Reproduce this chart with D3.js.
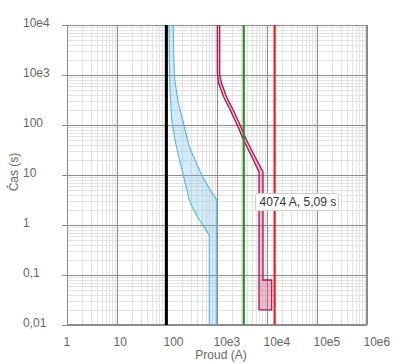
<!DOCTYPE html>
<html><head><meta charset="utf-8">
<script src="https://cdn.jsdelivr.net/npm/d3@7"></script>
<style>
html,body{margin:0;padding:0;background:#fff;}
svg{display:block;font-family:"Liberation Sans",Arial,sans-serif;}
</style></head>
<body><svg id="c" width="398" height="364"></svg>
<script>
// ---- data ----
const xTickValues = [1, 10, 100, 1e3, 1e4, 1e5, 1e6];
const xTickLabels = ["1", "10", "100", "10e3", "10e4", "10e5", "10e6"];
const yTickValues = [0.01, 0.1, 1, 10, 100, 1e3, 1e4];
const yTickLabels = ["0,01", "0,1", "1", "10", "100", "10e3", "10e4"];

const blueLowerI = [109.6, 111.2, 114.8, 124.2, 144.5, 173.8, 211.8, 279, 346.7, 446.7, 701.5, 701.5];
const blueLowerT = [10000, 1995, 501, 125.9, 50.1, 21.9, 10, 3.16, 1.905, 1.26, 0.631, 0.01];
const blueUpperI = [133.7, 136.8, 143.2, 168.3, 206, 279, 363, 494, 692, 986, 986];
const blueUpperT = [10000, 1995, 794, 275, 125.9, 36.8, 20, 10, 5.5, 3.16, 0.01];

const magLowerI = [1014, 1014, 1072, 1349, 1837, 2692, 3388, 4966, 6918, 6918];
const magLowerT = [10000, 1096, 692, 368, 200, 87, 50, 23.2, 11.5, 0.02];
const magUpperI = [1132, 1132, 1230, 1549, 2109, 3090, 3890, 5754, 8318, 8318, 12417, 12417];
const magUpperT = [10000, 1000, 692, 368, 200, 87, 50, 23.2, 11.5, 0.0794, 0.0794, 0.02];

const blackI = 97;
const greenI = 3430;
const redI = 14200;

const xTitle = "Proud (A)";
const yTitle = "Čas (s)";
const tooltipText = "4074 A, 5,09 s";

// ---- chart ----
const svg = d3.select("#c");
const L = 67, R = 367, T = 25, B = 325;
const x = d3.scaleLog().domain([1, 1e6]).range([L, R]);
const y = d3.scaleLog().domain([0.01, 1e4]).range([B, T]);

const minorX = [], minorY = [];
for (let e = 0; e < 6; e++) for (let m = 2; m <= 9; m++) minorX.push(m * Math.pow(10, e));
for (let e = -2; e < 4; e++) for (let m = 2; m <= 9; m++) minorY.push(+(m * Math.pow(10, e)).toPrecision(3));

const g = svg.append("g");
g.selectAll(".mx").data(minorX).join("line")
  .attr("x1", d => Math.round(x(d)) + 0.5).attr("x2", d => Math.round(x(d)) + 0.5)
  .attr("y1", T).attr("y2", B).attr("stroke", "#e2e2e2").attr("stroke-width", 1);
g.selectAll(".my").data(minorY).join("line")
  .attr("y1", d => Math.round(y(d)) + 0.5).attr("y2", d => Math.round(y(d)) + 0.5)
  .attr("x1", L).attr("x2", R).attr("stroke", "#e2e2e2").attr("stroke-width", 1);

// major grid via axes
const xAxis = d3.axisBottom(x).tickValues(xTickValues).tickFormat((d, i) => xTickLabels[i]).tickSize(-(B - T) - 5).tickSizeOuter(0);
const yAxis = d3.axisLeft(y).tickValues(yTickValues).tickFormat((d, i) => yTickLabels[i]).tickSize(-(R - L) - 5).tickSizeOuter(0);

const gx = svg.append("g").attr("transform", `translate(0,${B + 5})`).call(xAxis);
gx.select(".domain").remove();
gx.selectAll(".tick line").attr("stroke", "#8c8c8c").attr("y1", -5 + 0).attr("y2", -(B - T) - 5);
gx.selectAll(".tick text").attr("fill", "#666").attr("font-size", 12)
  .attr("text-anchor", "start").attr("dx", -4).attr("y", 0).attr("dy", 0)
  .attr("transform", "translate(0,16)");

const gy = svg.append("g").attr("transform", `translate(${L - 5},0)`).call(yAxis);
gy.select(".domain").remove();
gy.selectAll(".tick line").attr("stroke", "#8c8c8c").attr("x1", 0).attr("x2", R - L + 5);
gy.selectAll(".tick text").attr("fill", "#666").attr("font-size", 12)
  .attr("text-anchor", "start").attr("x", 23 - (L - 5)).attr("dy", "0.32em")
  .attr("transform", "translate(0,-2)");

// border
svg.append("rect").attr("x", L + 0.5).attr("y", T + 0.5).attr("width", R - L - 1).attr("height", B - T - 1)
  .attr("fill", "none").attr("stroke", "#8c8c8c");

const line = d3.line().x(d => x(d[0])).y(d => y(d[1]));
const zip = (a, b) => a.map((v, i) => [v, b[i]]);

// blue band
const bl = zip(blueLowerI, blueLowerT), bu = zip(blueUpperI, blueUpperT);
svg.append("path").attr("d", line(bl.concat(bu.slice().reverse())) + "Z")
  .attr("fill", "rgba(110,190,230,0.3)").attr("stroke", "none");
[bl, bu].forEach(p => svg.append("path").attr("d", line(p)).attr("fill", "none")
  .attr("stroke", "#5cb3dc").attr("stroke-width", 1.1));

// magenta band
const ml = zip(magLowerI, magLowerT), mu = zip(magUpperI, magUpperT);
svg.append("path").attr("d", line(ml.concat(mu.slice().reverse())) + "Z")
  .attr("fill", "rgba(205,70,120,0.35)").attr("stroke", "none");
svg.append("path").attr("d", line(ml)).attr("fill", "none").attr("stroke", "#a31a50").attr("stroke-width", 1.3);
svg.append("path").attr("d", line(mu.concat([ml[ml.length - 1]]))).attr("fill", "none").attr("stroke", "#a31a50").attr("stroke-width", 1.3);

// vertical lines
[[blackI, "#000", 3], [greenI, "#2e8b2e", 2.2], [redI, "#ee1c1c", 2.2]].forEach(([v, c, w]) => {
  svg.append("line").attr("x1", x(v)).attr("x2", x(v)).attr("y1", y(1e4)).attr("y2", y(0.01))
    .attr("stroke", c).attr("stroke-width", w);
});

// titles
svg.append("text").attr("x", (L + R) / 2 + 4).attr("y", 359).attr("text-anchor", "middle")
  .attr("fill", "#666").attr("font-size", 12).text(xTitle);
svg.append("text").attr("transform", "translate(18,172) rotate(-90)").attr("text-anchor", "middle")
  .attr("fill", "#666").attr("font-size", 12).text(yTitle);

// tooltip
const tg = svg.append("g").attr("transform", "translate(255,193)");
tg.append("rect").attr("x", 0.5).attr("y", 0.5).attr("width", 83).attr("height", 17).attr("rx", 2)
  .attr("fill", "#fff").attr("stroke", "#cfcfcf");
tg.append("text").attr("x", 4.5).attr("y", 13).attr("font-size", 12).attr("fill", "#333").text(tooltipText);
</script></body></html>
